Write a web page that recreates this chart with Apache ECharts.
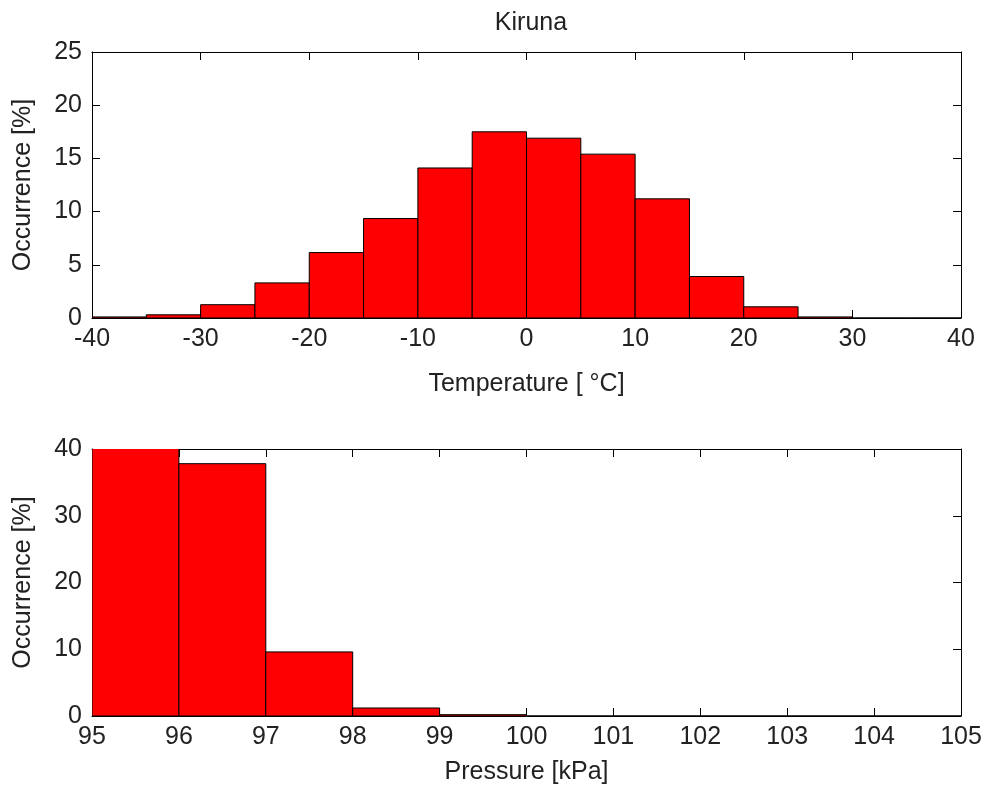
<!DOCTYPE html>
<html>
<head>
<meta charset="utf-8">
<title>Kiruna</title>
<script src="https://cdn.jsdelivr.net/npm/echarts@6/dist/echarts.min.js"></script>
<style>
  html, body { margin: 0; padding: 0; background: #fff; }
  #chart { width: 985px; height: 790px; }
</style>
</head>
<body>
<div id="chart"></div>
<script>
// Temperature histogram: 5 °C bins starting at -40
const tempBinStart = [-40, -35, -30, -25, -20, -15, -10, -5, 0, 5, 10, 15, 20, 25, 30, 35];
const tempBinWidth = 5;
const tempOccurrence = [0.1, 0.3, 1.25, 3.3, 6.15, 9.35, 14.1, 17.5, 16.9, 15.4, 11.2, 3.9, 1.05, 0.1, 0, 0];
const tempTicks = [-40, -30, -20, -10, 0, 10, 20, 30, 40];
const tempOccTicks = [0, 5, 10, 15, 20, 25];

// Pressure histogram: 1 kPa bins starting at 95
const pressBinStart = [95, 96, 97, 98, 99, 100, 101, 102, 103, 104];
const pressBinWidth = 1;
const pressOccurrence = [51, 37.8, 9.6, 1.2, 0.2, 0, 0, 0, 0, 0];
const pressTicks = [95, 96, 97, 98, 99, 100, 101, 102, 103, 104, 105];
const pressOccTicks = [0, 10, 20, 30, 40];

const FONT = 'Liberation Sans, Arial, sans-serif';
const TEXT = '#222222';
const FS = 25;

function bins(starts, width, values) {
  return starts.map((s, i) => [s, s + width, values[i]]);
}

function renderBin(params, api) {
  const x0 = api.value(0), x1 = api.value(1), y = api.value(2);
  const pTop = api.coord([x0, y]);
  const pBase = api.coord([x1, 0]);
  return {
    type: 'rect',
    shape: { x: pTop[0], y: pTop[1], width: pBase[0] - pTop[0], height: pBase[1] - pTop[1] },
    style: { fill: '#ff0000', stroke: '#000000', lineWidth: 1 }
  };
}

function xAxes(gridIndex, ticks, name, nameGap) {
  const base = {
    type: 'value',
    gridIndex: gridIndex,
    min: ticks[0],
    max: ticks[ticks.length - 1],
    interval: ticks[1] - ticks[0],
    splitLine: { show: false },
    axisLine: { show: true, onZero: false, lineStyle: { color: '#000', width: 1 } },
    axisTick: { show: true, inside: true, length: 8, lineStyle: { color: '#000', width: 1 } }
  };
  return [
    Object.assign({}, base, {
      position: 'bottom',
      name: name,
      nameLocation: 'middle',
      nameGap: nameGap,
      nameTextStyle: { fontFamily: FONT, fontSize: FS, color: TEXT },
      axisLabel: { show: true, margin: 9, fontFamily: FONT, fontSize: FS, color: TEXT,
                   showMinLabel: true, showMaxLabel: true }
    }),
    Object.assign({}, base, { position: 'top', axisLabel: { show: false } })
  ];
}

function yAxes(gridIndex, ticks, name) {
  const base = {
    type: 'value',
    gridIndex: gridIndex,
    min: ticks[0],
    max: ticks[ticks.length - 1],
    interval: ticks[1] - ticks[0],
    splitLine: { show: false },
    axisLine: { show: true, onZero: false, lineStyle: { color: '#000', width: 1 } },
    axisTick: { show: true, inside: true, length: 8, lineStyle: { color: '#000', width: 1 } }
  };
  return [
    Object.assign({}, base, {
      position: 'left',
      name: name,
      nameLocation: 'middle',
      nameGap: 56,
      nameTextStyle: { fontFamily: FONT, fontSize: FS, color: TEXT },
      axisLabel: { show: true, margin: 10, fontFamily: FONT, fontSize: FS, color: TEXT,
                   showMinLabel: true, showMaxLabel: true }
    }),
    Object.assign({}, base, { position: 'right', axisLabel: { show: false } })
  ];
}

const chart = echarts.init(document.getElementById('chart'), null, { renderer: 'canvas' });

chart.setOption({
  animation: false,
  backgroundColor: '#ffffff',
  title: {
    text: 'Kiruna',
    left: 526,
    textAlign: 'center',
    top: 6,
    textStyle: { fontFamily: FONT, fontSize: FS, fontWeight: 'normal', color: TEXT }
  },
  grid: [
    { left: 92, top: 52, width: 869, height: 266 },
    { left: 92, top: 449, width: 869, height: 267 }
  ],
  xAxis: [].concat(
    xAxes(0, tempTicks, 'Temperature [ \u00B0C]', 54),
    xAxes(1, pressTicks, 'Pressure [kPa]', 44)
  ),
  yAxis: [].concat(
    yAxes(0, tempOccTicks, 'Occurrence [%]'),
    yAxes(1, pressOccTicks, 'Occurrence [%]')
  ),
  series: [
    {
      type: 'custom',
      name: 'Temperature',
      xAxisIndex: 0,
      yAxisIndex: 0,
      clip: true,
      renderItem: renderBin,
      encode: { x: [0, 1], y: 2 },
      data: bins(tempBinStart, tempBinWidth, tempOccurrence)
    },
    {
      type: 'custom',
      name: 'Pressure',
      xAxisIndex: 2,
      yAxisIndex: 2,
      clip: true,
      renderItem: renderBin,
      encode: { x: [0, 1], y: 2 },
      data: bins(pressBinStart, pressBinWidth, pressOccurrence)
    }
  ]
});
</script>
</body>
</html>
